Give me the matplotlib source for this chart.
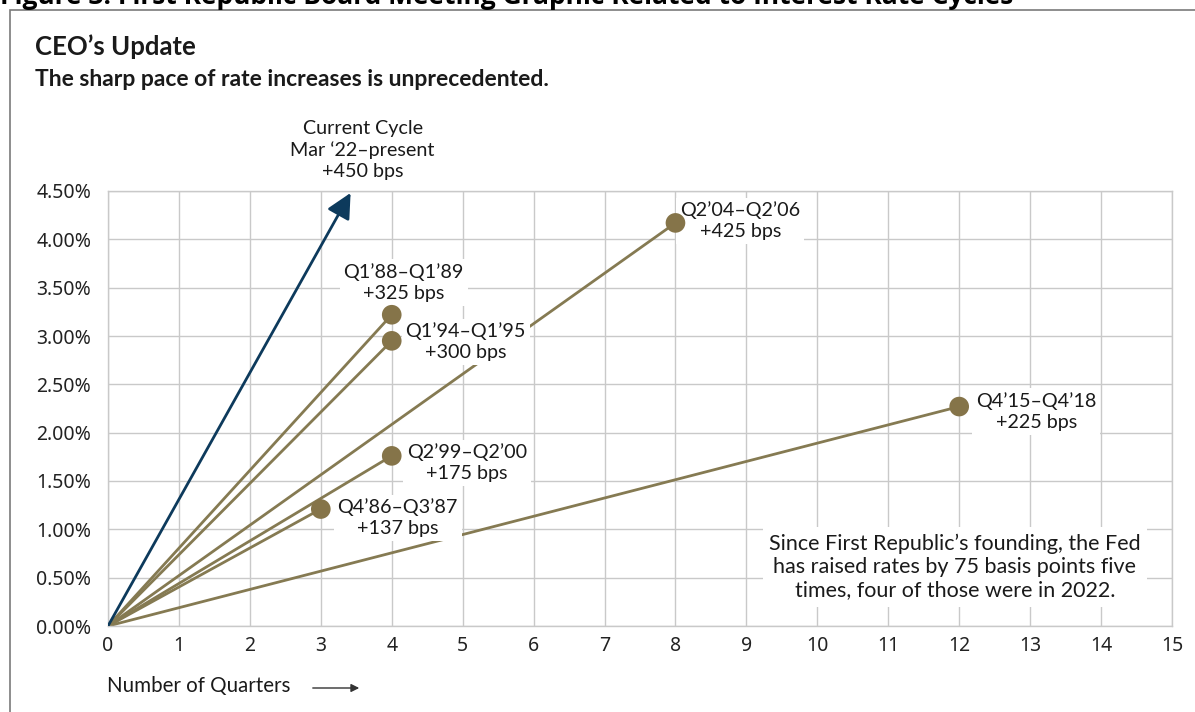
import matplotlib
matplotlib.use("Agg")
import matplotlib.pyplot as plt
from matplotlib.patches import Rectangle, FancyArrowPatch
from matplotlib.ticker import FuncFormatter

# ---- data ----
cycles = ["Q4’86–Q3’87", "Q2’99–Q2’00", "Q1’94–Q1’95", "Q1’88–Q1’89", "Q2’04–Q2’06", "Q4’15–Q4’18"]
bps_labels = ["+137 bps", "+175 bps", "+300 bps", "+325 bps", "+425 bps", "+225 bps"]
quarters = [3, 4, 4, 4, 8, 12]
rise_pct = [1.21, 1.76, 2.95, 3.22, 4.17, 2.27]

current_label = ["Current Cycle", "Mar ‘22–present", "+450 bps"]
current_quarters = 3.42
current_rise = 4.48

x_ticks = list(range(0, 16))
y_ticks = [0.0, 0.5, 1.0, 1.5, 2.0, 2.5, 3.0, 3.5, 4.0, 4.5]

note = ("Since First Republic’s founding, the Fed\n"
        "has raised rates by 75 basis points five\n"
        "times, four of those were in 2022.")

# label offsets (pixels) relative to each end point
label_offsets = [(77, -9), (75, -7), (74, -1), (12, 32), (65, 2), (77, -5)]

# ---- style ----
LINE = "#857a52"
DOT = "#857449"
NAVY = "#0d3a5c"
GRID = "#c9c9c9"
TXT = "#1a1a1a"
FONT = "Lato"
LBL = 14.2

fig = plt.figure(figsize=(11.95, 7.12), dpi=100)
W, H = 1195, 712

# cut-off figure title at the very top (as in the reference)
fig.text(0.0, 1 - 4 / H, "Figure 3: First Republic Board Meeting Graphic Related to Interest Rate Cycles",
         ha="left", va="baseline", fontsize=19, fontweight="bold", family="Open Sans", color="black")

# outer frame
fig.patches.append(Rectangle((10 / W, -0.05), 1.1, 1 - 10 / H + 0.05, transform=fig.transFigure,
                             fill=False, ec="#7a7a7a", lw=1.2, zorder=0))

fig.text(35 / W, 1 - 47 / H, "CEO’s Update", ha="left", va="center", fontsize=18.5,
         fontweight="bold", family=FONT, color=TXT)
fig.text(35 / W, 1 - 79 / H, "The sharp pace of rate increases is unprecedented.", ha="left",
         va="center", fontsize=16.5, fontweight="bold", family=FONT, color=TXT)

ax = fig.add_axes([108 / W, (H - 626) / H, (1172 - 108) / W, (626 - 191) / H])
ax.set_xlim(0, 15)
ax.set_ylim(0, 4.5)
ax.set_xticks(x_ticks)
ax.set_yticks(y_ticks)
ax.yaxis.set_major_formatter(FuncFormatter(lambda v, p: f"{v:.2f}%"))
ax.grid(True, color=GRID, lw=1.0)
ax.set_axisbelow(True)
for s in ax.spines.values():
    s.set_color(GRID)
    s.set_linewidth(1.0)
ax.tick_params(length=0, labelsize=14, colors="#222222")
ax.tick_params(axis="y", pad=12)
ax.tick_params(axis="x", pad=7)
for lab in ax.get_xticklabels() + ax.get_yticklabels():
    lab.set_family("Noto Sans")

# historic cycles
for q, r in zip(quarters, rise_pct):
    ax.plot([0, q], [0, r], color=LINE, lw=2.0, zorder=2, solid_capstyle="round")
ax.scatter(quarters, rise_pct, s=200, color=DOT, zorder=6, edgecolors="none")

for name, bps, q, r, off in zip(cycles, bps_labels, quarters, rise_pct, label_offsets):
    ax.annotate(f"{name}\n{bps}", xy=(q, r), xytext=off, textcoords="offset pixels",
                ha="center", va="center", fontsize=LBL, family=FONT, color=TXT,
                linespacing=1.28, zorder=5,
                bbox=dict(boxstyle="square,pad=0.2", fc="white", ec="none"))

# current cycle arrow
arr = FancyArrowPatch((0, 0), (current_quarters, current_rise), arrowstyle="-|>",
                      mutation_scale=38, color=NAVY, lw=2.0, zorder=3, shrinkA=0, shrinkB=0)
ax.add_patch(arr)
ax.annotate("\n".join(current_label), xy=(current_quarters, current_rise), xytext=(12, 43),
            textcoords="offset pixels", ha="center", va="center", fontsize=LBL, family=FONT,
            color=TXT, linespacing=1.28, annotation_clip=False, zorder=5)

# note
ax.text(0.796, 0.1356, note, transform=ax.transAxes, ha="center", va="center", fontsize=15.5,
        family=FONT, color=TXT, linespacing=1.2, zorder=5,
        bbox=dict(boxstyle="square,pad=0.3", fc="white", ec="none"))

# x-axis title with arrow
fig.text(107 / W, 1 - 686 / H, "Number of Quarters", ha="left", va="center", fontsize=14.8,
         family=FONT, color=TXT)
fig.patches.append(FancyArrowPatch((310 / W, 1 - 688 / H), (362 / W, 1 - 688 / H),
                                   transform=fig.transFigure, arrowstyle="-|>", mutation_scale=12,
                                   color="#333333", lw=1.0))

fig.savefig("out.png", dpi=100)
